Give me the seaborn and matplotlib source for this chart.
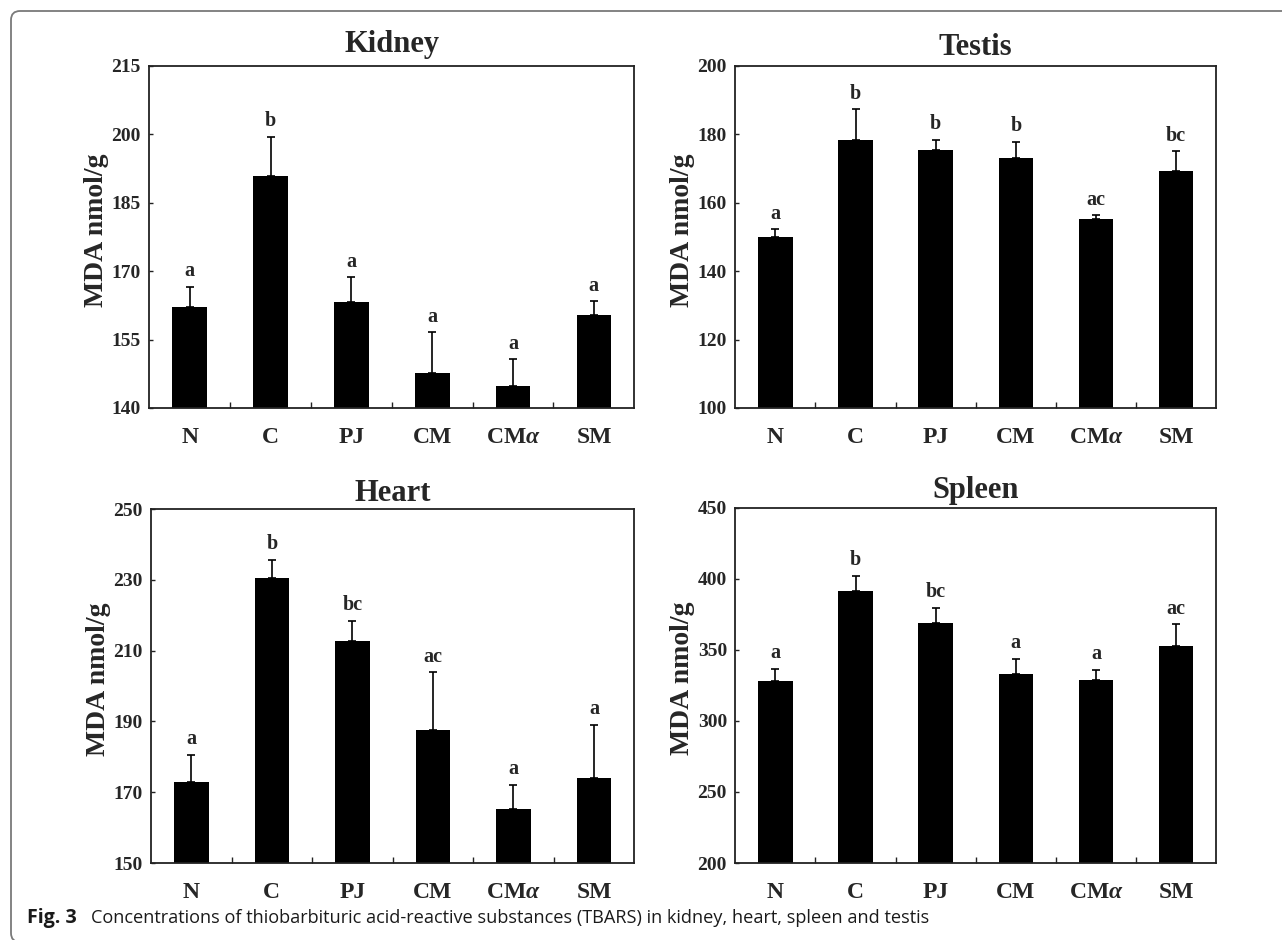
import numpy as np
import pandas as pd
import matplotlib
matplotlib.use("Agg")
import matplotlib.pyplot as plt
import seaborn as sns
from matplotlib.patches import FancyBboxPatch
from matplotlib.ticker import FixedLocator
from matplotlib.transforms import IdentityTransform

# ---------------- data ----------------
categories = ["N", "C", "PJ", "CM", "CMα", "SM"]

kidney_mean = [162.2, 190.9, 163.2, 147.7, 144.9, 160.4]
kidney_err = [4.4, 8.6, 5.5, 8.9, 5.8, 3.0]
kidney_letters = ["a", "b", "a", "a", "a", "a"]
kidney_ticks = [140, 155, 170, 185, 200, 215]

testis_mean = [150.0, 178.4, 175.5, 173.0, 155.3, 169.3]
testis_err = [2.3, 9.0, 2.9, 4.8, 1.1, 5.8]
testis_letters = ["a", "b", "b", "b", "ac", "bc"]
testis_ticks = [100, 120, 140, 160, 180, 200]

heart_mean = [172.9, 230.5, 212.6, 187.6, 165.3, 174.0]
heart_err = [7.7, 5.2, 5.9, 16.3, 6.8, 15.1]
heart_letters = ["a", "b", "bc", "ac", "a", "a"]
heart_ticks = [150, 170, 190, 210, 230, 250]

spleen_mean = [328.0, 391.0, 368.5, 333.0, 329.0, 352.9]
spleen_err = [8.5, 10.8, 10.8, 10.5, 6.8, 15.0]
spleen_letters = ["a", "b", "bc", "a", "a", "ac"]
spleen_ticks = [200, 250, 300, 350, 400, 450]

caption_bold = "Fig. 3"
caption_text = ("Concentrations of thiobarbituric acid-reactive substances (TBARS) "
                "in kidney, heart, spleen and testis")
ylabel_text = "MDA nmol/g"

# ---------------- style ----------------
sns.set_theme(style="white")
SERIF = ["Liberation Serif", "DejaVu Serif"]
plt.rcParams["font.family"] = SERIF
plt.rcParams["mathtext.fontset"] = "custom"
plt.rcParams["mathtext.rm"] = "Liberation Serif:bold"
plt.rcParams["mathtext.bf"] = "Liberation Serif:bold"
plt.rcParams["mathtext.it"] = "Liberation Serif:italic:bold"

W, H = 1282, 940
fig = plt.figure(figsize=(W / 100, H / 100), dpi=100)
fig.patch.set_facecolor("white")

def fx(px):
    return px / W

def fy(px):
    return 1 - px / H

# panel: (title, mean, err, letters, ticks, left, right, top, bottom, title_pad)
panels = [
    ("Kidney", kidney_mean, kidney_err, kidney_letters, kidney_ticks, 149.3, 634.3, 66, 408, 10),
    ("Testis", testis_mean, testis_err, testis_letters, testis_ticks, 735.3, 1216.3, 66, 408, 8),
    ("Heart", heart_mean, heart_err, heart_letters, heart_ticks, 151, 634.3, 509, 863, 6),
    ("Spleen", spleen_mean, spleen_err, spleen_letters, spleen_ticks, 735.3, 1216.3, 507.5, 863, 7),
]

display_labels = [c.replace("α", r"$\alpha$") for c in categories]

for title, mean, err, letters, ticks, l, r, t, b, tpad in panels:
    ax = fig.add_axes([fx(l), fy(b), fx(r - l), (b - t) / H])
    df = pd.DataFrame({"group": categories, "value": mean})
    sns.barplot(data=df, x="group", y="value", order=categories, color="black",
                saturation=1, width=0.43, errorbar=None, linewidth=0, ax=ax)
    xs = np.arange(len(categories))
    ax.errorbar(xs, mean, yerr=[np.zeros(len(err)), err], fmt="none",
                ecolor="black", elinewidth=1.2, capsize=3, capthick=1.2, zorder=3)
    for i, (m, e, lt) in enumerate(zip(mean, err, letters)):
        ax.annotate(lt, xy=(i, m + e), xytext=(0, 4), textcoords="offset points",
                    ha="center", va="bottom", fontsize=14.5, fontweight="bold",
                    family=SERIF)
    ax.set_xlim(-0.5, len(categories) - 0.5)
    ax.set_ylim(ticks[0], ticks[-1])
    ax.set_yticks(ticks)
    ax.set_yticklabels([str(v) for v in ticks], fontsize=14, fontweight="bold")
    ax.set_xticks(xs)
    ax.set_xticklabels(display_labels, fontsize=17, fontweight="bold")
    ax.xaxis.set_minor_locator(FixedLocator(np.arange(0.5, len(categories) - 0.5, 1.0)))
    ax.tick_params(axis="x", which="major", length=0, pad=14)
    ax.tick_params(axis="x", which="minor", direction="in", length=4, width=1,
                   color="#222222", bottom=True)
    ax.tick_params(axis="y", which="major", direction="in", length=3, width=1,
                   color="#222222", pad=6, left=True)
    ax.set_xlabel("")
    ax.set_ylabel(ylabel_text, fontsize=20, fontweight="bold")
    ax.yaxis.set_label_coords(-0.083, 0.52)
    ax.set_title(title, fontsize=22, fontweight="bold", pad=tpad)
    for sp in ax.spines.values():
        sp.set_visible(True)
        sp.set_color("#222222")
        sp.set_linewidth(1.3)
    ax.set_facecolor("white")
    ax.grid(False)

# outer rounded frame (pixel coordinates, open to the right and bottom edges)
frame = FancyBboxPatch((11, -2), 1400, (H - 11) + 2,
                       boxstyle="round,pad=0,rounding_size=9",
                       transform=IdentityTransform(), facecolor="none",
                       edgecolor="#7a7a7a", linewidth=1.3, zorder=0)
fig.patches.append(frame)

# caption
SANS = ["Open Sans", "DejaVu Sans"]
cap_y = fy(918)
t_bold = fig.text(fx(27), cap_y, caption_bold, fontsize=11, fontweight="bold",
                  family=SANS, va="center", ha="left", color="#1a1a1a")
t_reg = fig.text(fx(91), cap_y, caption_text, fontsize=11, family=SANS,
                 va="center", ha="left", color="#1a1a1a")
fig.canvas.draw()
renderer = fig.canvas.get_renderer()
target = 928 - 91
for _ in range(3):
    bb = t_reg.get_window_extent(renderer)
    t_reg.set_fontsize(t_reg.get_fontsize() * target / bb.width)
    fig.canvas.draw()
bbb = t_bold.get_window_extent(renderer)
t_bold.set_fontsize(t_bold.get_fontsize() * 50 / bbb.width)

fig.savefig("out.png", dpi=100, facecolor="white")
